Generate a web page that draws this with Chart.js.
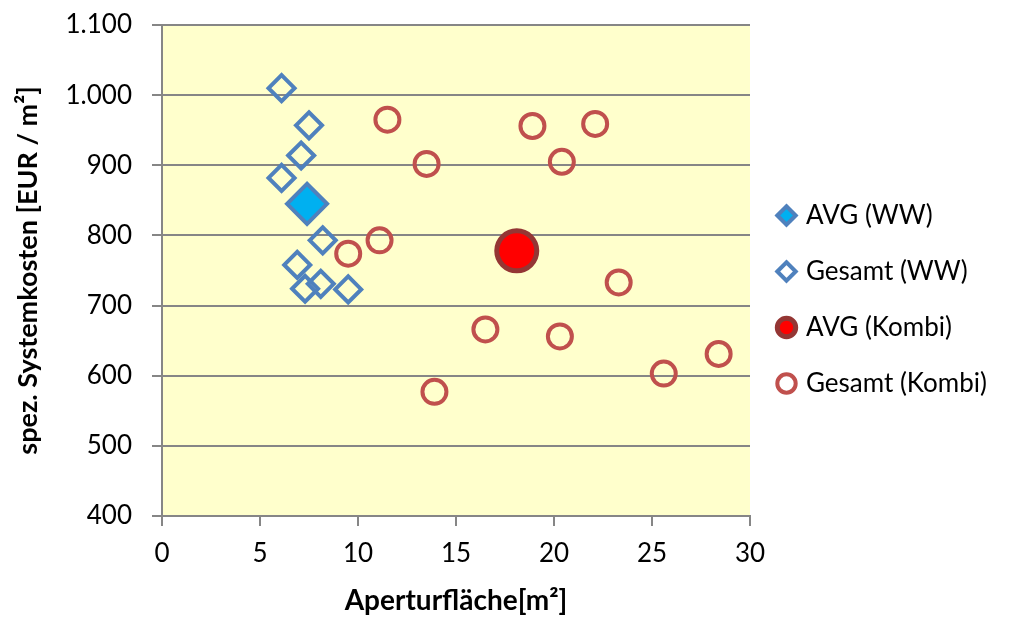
<!DOCTYPE html>
<html>
<head>
<meta charset="utf-8">
<script src="https://cdn.jsdelivr.net/npm/chart.js@4.4.0/dist/chart.umd.min.js"></script>
<style>
  html, body { margin: 0; padding: 0; background: #fff; }
  #wrap { width: 1016px; height: 618px; }
</style>
</head>
<body>
<div id="wrap"><canvas id="costChart" width="1016" height="618"></canvas></div>
<script>
// Daten
const seriesNames = ['AVG (WW)', 'Gesamt (WW)', 'AVG (Kombi)', 'Gesamt (Kombi)'];

const avgWwX = [7.4];
const avgWwY = [845];

const gesamtWwX = [6.1, 7.5, 7.1, 6.1, 8.2, 6.9, 7.3, 8.1, 9.5];
const gesamtWwY = [1010, 957, 914, 882, 793, 758, 724, 731, 723];

const avgKombiX = [18.1];
const avgKombiY = [778];

const gesamtKombiX = [11.5, 18.9, 22.1, 13.5, 20.4, 11.1, 9.5, 23.3, 16.5, 20.3, 25.6, 28.4, 13.9];
const gesamtKombiY = [965, 956, 959, 902, 905, 793, 774, 733, 666, 656, 603, 631, 577];

const xTicks = [0, 5, 10, 15, 20, 25, 30];
const yTicks = [400, 500, 600, 700, 800, 900, 1000, 1100];

function toPoints(xs, ys) {
    return xs.map((x, i) => ({ x: x, y: ys[i] }));
}

const fontFamily = 'Lato, "Open Sans", sans-serif';
const gridColor = '#868686';
const legendWidth = 262;

// gelber Hintergrund der Zeichenfläche
const plotBackground = {
    id: 'plotBackground',
    beforeDraw(chart) {
        const a = chart.chartArea;
        const c = chart.ctx;
        c.save();
        c.fillStyle = '#FFFFCC';
        c.fillRect(a.left, a.top, a.right - a.left, a.bottom - a.top);
        c.restore();
    }
};

// feste Breite fuer die Legende rechts
const legendFit = {
    id: 'legendFit',
    beforeInit(chart) {
        const fit = chart.legend.fit;
        chart.legend.fit = function () {
            fit.call(this);
            this.width = legendWidth;
        };
    }
};

const ctx = document.getElementById('costChart').getContext('2d');

const chart = new Chart(ctx, {
    type: 'scatter',
    data: {
        datasets: [
            {
                label: seriesNames[0],
                data: toPoints(avgWwX, avgWwY),
                pointStyle: 'rectRot',
                pointRadius: 20,
                borderWidth: 4,
                borderColor: '#4F81BD',
                backgroundColor: '#00B0F0'
            },
            {
                label: seriesNames[1],
                data: toPoints(gesamtWwX, gesamtWwY),
                pointStyle: 'rectRot',
                pointRadius: 13,
                borderWidth: 4,
                borderColor: '#4F81BD',
                backgroundColor: 'rgba(255,255,255,0)'
            },
            {
                label: seriesNames[2],
                data: toPoints(avgKombiX, avgKombiY),
                pointStyle: 'circle',
                pointRadius: 20,
                borderWidth: 5,
                borderColor: '#943634',
                backgroundColor: '#FF0000'
            },
            {
                label: seriesNames[3],
                data: toPoints(gesamtKombiX, gesamtKombiY),
                pointStyle: 'circle',
                pointRadius: 12,
                borderWidth: 4,
                borderColor: '#C0504D',
                backgroundColor: 'rgba(255,255,255,0)'
            }
        ]
    },
    options: {
        responsive: false,
        animation: false,
        layout: { padding: { top: 22, right: 4, bottom: 0, left: 8 } },
        scales: {
            x: {
                type: 'linear',
                min: 0,
                max: 30,
                afterBuildTicks: axis => { axis.ticks = xTicks.map(v => ({ value: v })); },
                afterFit: axis => {
                    axis.height = 102;
                    axis.paddingLeft = 0;
                    axis.paddingRight = 0;
                },
                ticks: {
                    font: { family: fontFamily, size: 26 },
                    color: '#000',
                    padding: 12
                },
                grid: {
                    drawOnChartArea: false,
                    drawTicks: true,
                    tickLength: 10,
                    color: gridColor,
                    lineWidth: 2
                },
                border: { color: gridColor, width: 2 },
                title: {
                    display: true,
                    text: 'Aperturfläche[m²]',
                    font: { family: fontFamily, size: 28, weight: 'bold' },
                    color: '#000',
                    padding: { top: 4, bottom: 0 }
                }
            },
            y: {
                type: 'linear',
                min: 400,
                max: 1100,
                afterBuildTicks: axis => { axis.ticks = yTicks.map(v => ({ value: v })); },
                afterFit: axis => {
                    axis.width = 154;
                    axis.paddingTop = 0;
                    axis.paddingBottom = 0;
                },
                ticks: {
                    font: { family: fontFamily, size: 26 },
                    color: '#000',
                    padding: 20,
                    callback: v => v.toLocaleString('de-DE')
                },
                grid: {
                    color: gridColor,
                    lineWidth: 2,
                    tickLength: 10
                },
                border: { color: gridColor, width: 2 },
                title: {
                    display: true,
                    text: 'spez. Systemkosten [EUR / m²]',
                    font: { family: fontFamily, size: 27, weight: 'bold' },
                    color: '#000',
                    padding: { top: 4, bottom: 0 }
                }
            }
        },
        plugins: {
            legend: {
                position: 'right',
                align: 'center',
                fullSize: false,
                title: {
                    display: true,
                    text: ' ',
                    font: { size: 10 },
                    padding: { top: 46, bottom: 0 }
                },
                labels: {
                    usePointStyle: true,
                    boxWidth: 13,
                    boxHeight: 13,
                    padding: 30,
                    color: '#000',
                    font: { family: fontFamily, size: 26 }
                }
            },
            tooltip: { enabled: false }
        }
    },
    plugins: [plotBackground, legendFit]
});
</script>
</body>
</html>
